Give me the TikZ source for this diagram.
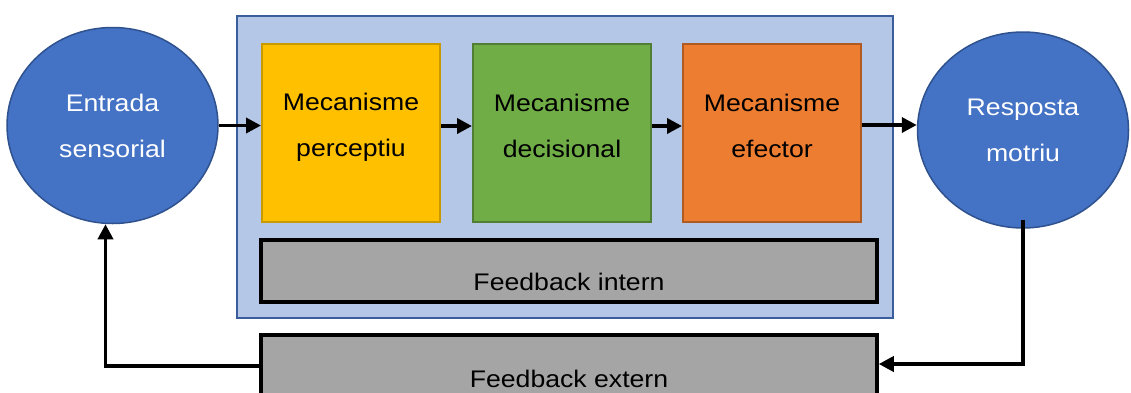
\documentclass[tikz,border=0pt]{standalone}
\usepackage{fontspec}
\setmainfont[FakeStretch=1.11]{Liberation Sans}
\usetikzlibrary{shapes.geometric,arrows.meta,calc}
\definecolor{cblue}{HTML}{4472C4}
\definecolor{cblueb}{HTML}{2F528F}
\definecolor{cpanel}{HTML}{B4C7E7}
\definecolor{cpanelb}{HTML}{3A5D9C}
\definecolor{cyel}{HTML}{FFC000}
\definecolor{cyelb}{HTML}{C99A00}
\definecolor{cgre}{HTML}{70AD47}
\definecolor{cgreb}{HTML}{507E32}
\definecolor{cora}{HTML}{ED7D31}
\definecolor{corab}{HTML}{AE5A21}
\definecolor{cgry}{HTML}{A5A5A5}
\tikzset{
  txt/.style={font=\fontsize{24}{46}\selectfont, align=center, inner sep=0pt},
  circ/.style={ellipse, draw=cblueb, line width=1.5pt, fill=cblue, text=white,
    minimum width=211pt, minimum height=196pt, inner sep=0pt, txt},
  mech/.style={draw=#1b, fill=#1, line width=2pt, minimum width=178pt,
    minimum height=178pt, inner sep=0pt},
  fb/.style={draw=black, fill=cgry, line width=3.5pt, minimum width=616pt,
    minimum height=62pt, inner sep=0pt},
  conn/.style={line width=3.6pt, -{Triangle[length=15pt,width=15pt]}},
}
\begin{document}
\begin{tikzpicture}[x=1pt,y=-1pt]
\clip (0,0) rectangle (1131,392);
\fill[white] (0,0) rectangle (1131,392);
% panel
\node[draw=cpanelb, fill=cpanel, line width=2pt, minimum width=656pt,
  minimum height=302pt, inner sep=0pt] (panel) at (565,167) {};
% mechanism boxes
\node[mech=cyel] (yel) at (351,133) {};
\node[mech=cgre] (gre) at (562,133) {};
\node[mech=cora] (ora) at (772,133) {};
\node[txt] (tyel) at ($(yel.center)+(0,-6)$) {Mecanisme\\perceptiu};
\node[txt] (tgre) at ($(gre.center)+(0,-7.5)$) {Mecanisme\\decisional};
\node[txt] (tora) at ($(ora.center)+(0,-7.5)$) {Mecanisme\\efector};
% feedback boxes
\node[fb] (int) at (569,271) {};
\node[txt] (tint) at (569,282) {Feedback intern};
\node[fb] (ext) at (569,366) {};
\node[txt] (text) at (569,378.5) {Feedback extern};
% ellipses
\node[circ] (in) at (112.5,125.5) {Entrada\\sensorial};
\node[circ] (out) at (1023,130) {Resposta\\motriu};
% connectors
\draw[conn] (in.east) -- (in.east -| yel.west);
\draw[conn] ([yshift=7pt]yel.east) -- ([yshift=7pt]gre.west);
\draw[conn] ([yshift=7pt]gre.east) -- ([yshift=7pt]ora.west);
\draw[conn] ([yshift=8pt]ora.east) -- ([yshift=8pt]ora.east -| out.west);
\draw[conn] ([yshift=9pt]out.south) |- ([yshift=2pt]ext.east);
\draw[conn] (ext.west) -| ([xshift=-7pt]in.south);
\end{tikzpicture}
\end{document}
